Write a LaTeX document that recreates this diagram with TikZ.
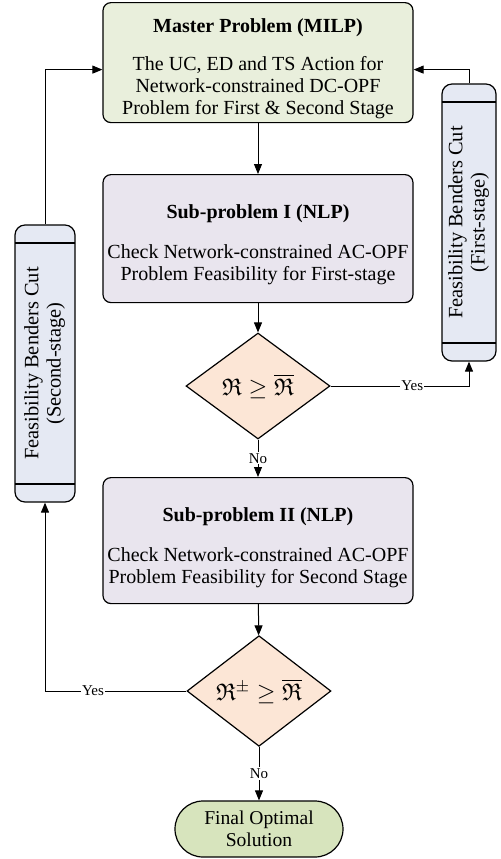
\documentclass[tikz,border=0pt]{standalone}
\usepackage{fontspec}
\setmainfont{Liberation Serif}
\usepackage{amssymb}
\usetikzlibrary{shapes.geometric,arrows.meta}

\definecolor{mastergreen}{HTML}{E9EFDC}
\definecolor{subpurple}{HTML}{E9E5EE}
\definecolor{cutblue}{HTML}{E5E9F3}
\definecolor{diapeach}{HTML}{FCE6D6}
\definecolor{termgreen}{HTML}{D7E4BD}

\tikzset{
	probbox/.style={draw, line width=0.6pt, rounded corners=4pt, align=center, minimum width=155pt, inner xsep=0pt, inner ysep=0pt, anchor=north, font=\fontsize{10}{11}\selectfont},
	cutbox/.style={draw, line width=0.6pt, rounded corners=5pt, fill=cutblue, minimum height=138.5pt, inner sep=0pt, font=\fontsize{10.2}{11.2}\selectfont,
		path picture={
			\draw ([yshift=-9pt]path picture bounding box.north west) -- ([yshift=-9pt]path picture bounding box.north east);
			\draw ([yshift=9pt]path picture bounding box.south west) -- ([yshift=9pt]path picture bounding box.south east);
		}},
	decision/.style={draw, line width=0.6pt, diamond, fill=diapeach, minimum width=72pt, minimum height=53pt, inner sep=0pt, font=\fontsize{12}{14}\selectfont},
	terminal/.style={draw, line width=0.6pt, rounded corners=14pt, fill=termgreen, minimum width=84pt, minimum height=28pt, align=center, inner sep=0pt, font=\fontsize{9.8}{11}\selectfont},
	lbl/.style={fill=white, inner sep=0.6pt, font=\fontsize{7.5}{9}\selectfont},
	>={Triangle[length=5pt,width=4pt]}
}

\newcommand{\ttl}[2]{\rule{0pt}{#1}\textbf{#2}}
\newcommand{\lastln}[1]{\rule[-#1]{0pt}{#1}}

\begin{document}
\begin{tikzpicture}[x=0.5pt, y=-0.5pt, line width=0.5pt]
	\useasboundingbox (0,0) rectangle (500,859);
	
	%problem boxes
	\node (master) at (258,2) [probbox, fill=mastergreen]{\ttl{15pt}{Master Problem (MILP)}\\[8pt]The UC, ED and TS Action for\\Network-constrained DC-OPF\\Problem for First \& Second Stage\lastln{4pt}};
	\node (sub1) at (258,174) [probbox, fill=subpurple]{\ttl{22pt}{Sub-problem I (NLP)}\\[9pt]Check Network-constrained AC-OPF\\Problem Feasibility for First-stage\lastln{11pt}};
	\node (sub2) at (258,477) [probbox, fill=subpurple]{\ttl{22pt}{Sub-problem II (NLP)}\\[9pt]Check Network-constrained AC-OPF\\Problem Feasibility for Second Stage\lastln{10pt}};
	
	%checks
	\node (chk1) at (258,386) [decision]{$\mathfrak{R}\geq\overline{\mathfrak{R}}$};
	\node (chk2) at (259,691) [decision]{$\mathfrak{R}^{\pm}\geq\overline{\mathfrak{R}}$};
	
	\node (final) at (259,829) [terminal]{Final Optimal\\Solution};
	
	%benders cuts
	\node (cut2) at (45,363.5) [cutbox, minimum width=30pt]{\rotatebox{90}{\begin{tabular}{@{}c@{}}Feasibility Benders Cut\\(Second-stage)\end{tabular}}};
	\node (cut1) at (469,222.5) [cutbox, minimum width=27pt]{\rotatebox{90}{\begin{tabular}{@{}c@{}}Feasibility Benders Cut\\(First-stage)\end{tabular}}};
	
	%main flow
	\draw[->] (master) -- (sub1);
	\draw[->] (sub1) -- (chk1);
	\draw[->] (chk1) -- node[lbl]{No} (sub2);
	\draw[->] (sub2) -- (chk2);
	\draw[->] (chk2) -- node[lbl]{No} (final);
	
	%feedback
	\draw[->] (chk1.east) -- node[lbl, pos=0.59]{Yes} (chk1.east -| cut1.south) -- (cut1.south);
	\draw[->] (chk2.west) -- node[lbl, pos=0.66]{Yes} (chk2.west -| cut2.south) -- (cut2.south);
	\draw[->] (cut1.north) |- ([yshift=-3.5pt]master.east);
	\draw[->] (cut2.north) |- ([yshift=-3.5pt]master.west);
\end{tikzpicture}
\end{document}
